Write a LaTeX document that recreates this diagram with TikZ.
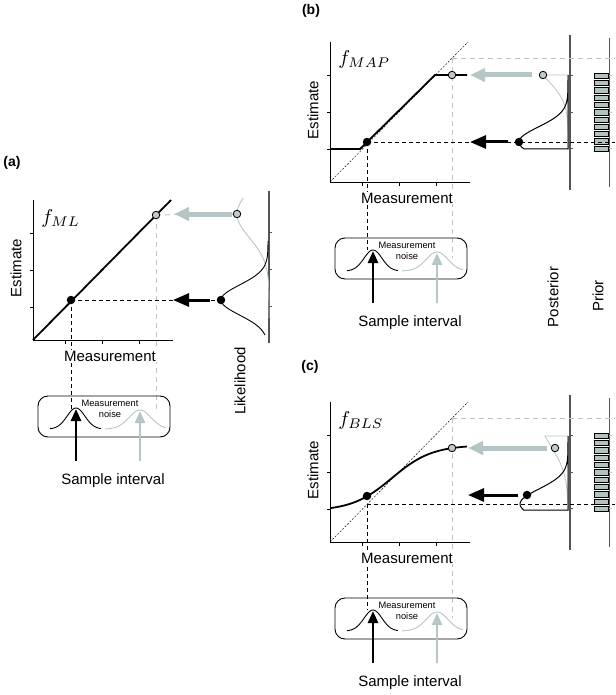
\documentclass[tikz,border=0pt]{standalone}
\usepackage{fontspec}
\setmainfont{Liberation Sans}
\usetikzlibrary{arrows.meta}
\definecolor{lg}{RGB}{182,198,198}
\definecolor{dg}{RGB}{195,195,195}
\definecolor{ax}{RGB}{85,85,85}
\definecolor{pr}{RGB}{178,195,190}
\definecolor{dotg}{RGB}{192,202,202}
\tikzset{
 lbl/.style={font=\fontsize{15}{18}\selectfont, inner sep=1pt},
 small/.style={font=\fontsize{9.3}{11}\selectfont, inner sep=0pt},
 plbl/.style={font=\fontsize{14}{16}\selectfont\bfseries, inner sep=0pt},
 bdash/.style={black, line width=0.9pt, dash pattern=on 4pt off 3pt},
 gdash/.style={dg, line width=0.9pt, dash pattern=on 5pt off 4pt},
 ident/.style={black, line width=0.45pt, dash pattern=on 2pt off 1.5pt},
 bigarrowb/.style={line width=3pt, -{Triangle[length=16pt,width=13pt]}},
 bigarrowg/.style={lg, line width=5pt, -{Triangle[length=15pt,width=13pt]}},
 uparrowb/.style={line width=2.5pt, -{Triangle[length=12pt,width=10pt]}},
 uparrowg/.style={lg, line width=2.5pt, -{Triangle[length=12pt,width=10pt]}},
 bdot/.style={circle, fill=black, inner sep=0pt, minimum size=8.5pt},
 gdot/.style={circle, fill=dotg, draw=black, line width=0.8pt, inner sep=0pt, minimum size=7.5pt},
 postax/.style={ax, line width=1.5pt},
 priorax/.style={ax, line width=1pt},
 bar/.style={fill=pr, draw=black, line width=0.4pt},
 tick/.style={line width=0.5pt},
}
\newcommand\rightcol{%
 \draw[postax] (570,35) -- (570,190);
 \draw[priorax] (609,38) -- (609,187);
 \foreach \t in {75,112,148} {\draw[ax, tick] (570,\t) -- (573,\t); \draw[dg, line width=0.4pt] (609,\t) -- (612,\t);}
 \foreach \i in {0,...,10} \draw[bar] (594,{73+\i*7.3}) rectangle (608,{78.3+\i*7.3});
}
\newcommand\panelbase[1]{%
 \draw[line width=0.8pt] (330,42) -- (330,182) -- (470,182);
 \foreach \t in {75,112,149} \draw[tick] (327,\t) -- (330,\t);
 \foreach \t in {362,399,436} \draw[tick] (\t,182) -- (\t,186);
 \node[lbl, rotate=90] (est#1) at (313,110) {Estimate};
 \node[lbl, fill=white] (meas#1) at (407,198) {Measurement};
 \node[draw, rounded corners=10pt, line width=0.9pt, minimum width=132pt, minimum height=41pt, inner sep=0pt] (box#1) at (401,258.5) {};
 \draw[line width=0.9pt] plot[domain=347:398,samples=40] (\x,{271-21*exp(-0.5*pow((\x-373)/9,2))});
 \draw[lg, line width=0.9pt] plot[domain=402:463,samples=40] (\x,{271-19*exp(-0.5*pow((\x-437)/11,2))});
 \node[small] (mn#1) at (407,245) {Measurement};
 \node[small] (nz#1) at (407,256) {noise};
 \node[lbl] (si#1) at (410,323) {Sample interval};
 \coordinate (ba#1) at (373,303); \coordinate (bt#1) at (373,251);
 \coordinate (ga#1) at (437,303); \coordinate (gt#1) at (437,253);
 \draw[uparrowb] (ba#1) -- (bt#1);
 \draw[uparrowg] (ga#1) -- (gt#1);
}
\begin{document}
\begin{tikzpicture}[x=1pt,y=-1pt]
\path[use as bounding box] (0,0) rectangle (615,695);
% ---------------- panel (a)
\node[plbl] (la) at (12,163) {(a)};
\coordinate (a1) at (71,300); \coordinate (a2) at (156,215);
\coordinate (a1b) at (71,409); \coordinate (a2b) at (156,413);
\coordinate (a1r) at (221,300); \coordinate (a2r) at (237,214);
\draw[gdash] (a2) -- (a2b);
\draw[bdash] (a1) -- (a1b);
\draw[bdash] (a1) -- (a1r);
\draw[gdash] (a2) -- (a2r);
\begin{scope}[shift={(-297,158)}]
 \panelbase{a}
\end{scope}
\draw[line width=1.8pt] (33,340) -- (171,200);
\draw[postax] (269,191) -- (269,343);
\foreach \t in {232,269,306} \draw[ax, tick] (269,\t) -- (272,\t);
\node[lbl, rotate=90] (lik) at (240,381) {Likelihood};
\draw[lg, line width=0.9pt] plot[domain=198:318,samples=60] ({269-32*exp(-0.5*pow((\x-214)/24,2))},\x);
\draw[line width=0.9pt] plot[domain=241:335,samples=60] ({268-47*exp(-0.5*pow((\x-300)/15,2))},\x);
\coordinate (ag0) at (232,214); \coordinate (ag1) at (174,214);
\coordinate (ab0) at (210,300); \coordinate (ab1) at (173,300);
\draw[bigarrowg] (ag0) -- (ag1);
\draw[bigarrowb] (ab0) -- (ab1);
\node[bdot] (da1) at (a1) {};
\node[gdot] (da2) at (a2) {};
\node[bdot] (da3) at (a1r) {};
\node[gdot] (da4) at (a2r) {};
\node[anchor=base west, scale=2, inner sep=0pt] (fa) at (41,223) {$f_{ML}$};
% ---------------- panel (b)
\node[plbl] (lb) at (311,11) {(b)};
\rightcol
\coordinate (b1) at (367,142); \coordinate (b2) at (452,58);
\coordinate (b1r) at (615,142); \coordinate (b2r) at (615,58);
\coordinate (b1b) at (367,250); \coordinate (b2b) at (452,258);
\draw[gdash] (b2) -- (b2r);
\draw[gdash] (b2) -- (b2b);
\draw[bdash] (b1) -- (b1r);
\draw[bdash] (b1) -- (b1b);
\panelbase{b}
\draw[ident] (330,182) -- (468,42);
\draw[line width=1.8pt] (330,149) -- (360,149) -- (435,75) -- (467,75);
\draw[lg, line width=0.8pt] plot[domain=75:149,samples=50] ({568-33.8*exp(-0.5*pow((\x-58)/22,2))},\x) -- (568,149) -- (568,75) -- cycle;
\draw[line width=1pt] plot[domain=75:149,samples=60] ({568-49*exp(-0.5*pow((\x-142)/15,2))},\x) -- (568,149) -- cycle;
\coordinate (bg0) at (532,75); \coordinate (bg1) at (470,75);
\coordinate (bb0) at (508,142); \coordinate (bb1) at (470,142);
\draw[bigarrowg] (bg0) -- (bg1);
\draw[bigarrowb] (bb0) -- (bb1);
\node[bdot] (db1) at (b1) {};
\node[gdot] (db2) at (452,75) {};
\node[bdot] (db3) at (519,142) {};
\node[gdot] (db4) at (543,75) {};
\node[anchor=base west, scale=2, inner sep=0pt] (fb) at (338,65) {$f_{MAP}$};
\node[lbl, rotate=90] (post) at (553,297) {Posterior};
\node[lbl, rotate=90] (prior) at (598,296) {Prior};
% ---------------- panel (c)
\node[plbl] (lc) at (310,367) {(c)};
\begin{scope}[shift={(0,360)}]
 \rightcol
\end{scope}
\coordinate (c1) at (367,504); \coordinate (c2) at (452,418);
\coordinate (c1r) at (615,504); \coordinate (c2r) at (615,418);
\coordinate (c1b) at (367,610); \coordinate (c2b) at (452,618);
\draw[gdash] (c2) -- (c2r);
\draw[gdash] (c2) -- (c2b);
\draw[bdash] (c1) -- (c1r);
\draw[bdash] (c1) -- (c1b);
\begin{scope}[shift={(0,360)}]
 \panelbase{c}
\end{scope}
\draw[ident] (330,542) -- (468,402);
\draw[line width=1.8pt] plot[domain=330:467,samples=70] (\x,{511-66/(1+exp(-(\x-392)/20))});
\draw[lg, line width=0.8pt] plot[domain=436:510,samples=50] ({568-28.3*exp(-0.5*pow((\x-418)/28,2))},\x) -- (568,510) -- (568,436) -- cycle;
\draw[line width=1pt] plot[domain=436:510,samples=60] ({568-48*exp(-0.5*pow((\x-504)/15,2))},\x) -- (568,510) -- cycle;
\coordinate (cg0) at (547,448); \coordinate (cg1) at (468,448);
\coordinate (cb0) at (518,495); \coordinate (cb1) at (468,495);
\draw[bigarrowg] (cg0) -- (cg1);
\draw[bigarrowb] (cb0) -- (cb1);
\node[bdot] (dc1) at (367,496) {};
\node[gdot] (dc2) at (452,448) {};
\node[bdot] (dc3) at (527,495) {};
\node[gdot] (dc4) at (555,448) {};
\node[anchor=base west, scale=2, inner sep=0pt] (fc) at (338,425) {$f_{BLS}$};
\end{tikzpicture}
\end{document}
